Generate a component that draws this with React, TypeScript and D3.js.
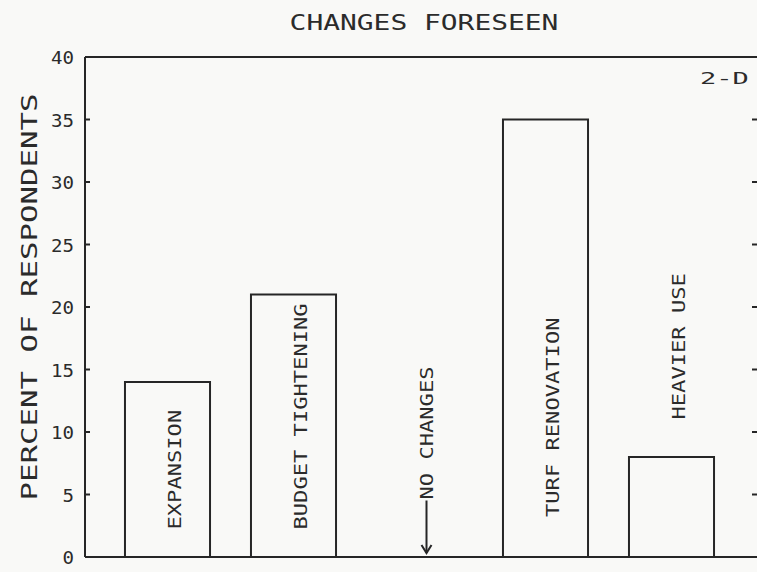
import React, { useEffect, useRef } from 'react';
import * as d3 from 'd3';

// Plotter-style bar chart: changes foreseen
const categories = ['EXPANSION', 'BUDGET TIGHTENING', 'NO CHANGES', 'TURF RENOVATION', 'HEAVIER USE'];
const percents = [14, 21, 0, 35, 8];
const yTicks = [0, 5, 10, 15, 20, 25, 30, 35, 40];
const tickLabels = ['0', '5', '10', '15', '20', '25', '30', '35', '40'];
// where each vertical label starts, in axis units
const labelStart = [2.2, 2.2, 4.6, 3.2, 11];

const title = 'CHANGES FORESEEN';
const yTitle = 'PERCENT OF RESPONDENTS';
const panelTag = '2-D';

export default function App() {
  const ref = useRef<SVGSVGElement | null>(null);

  useEffect(() => {
    const width = 757;
    const height = 572;
    const ink = '#262626';
    const font = '"DejaVu Sans Mono", "Liberation Mono", monospace';

    const svg = d3.select(ref.current);
    svg.selectAll('*').remove();
    svg.attr('width', width).attr('height', height).attr('viewBox', `0 0 ${width} ${height}`);

    svg.append('rect').attr('width', width).attr('height', height).attr('fill', '#f9f9f7');

    const left = 85;
    const right = 757;

    const x = d3.scaleBand<string>()
      .domain(categories)
      .range([104.5, 734.5])
      .paddingInner(0.325)
      .paddingOuter(0.1625);

    const y = d3.scaleLinear().domain([0, 40]).range([557, 57]);

    const g = svg.append('g').attr('fill', 'none').attr('stroke', ink).attr('stroke-width', 2);

    // frame: top, left, bottom
    g.append('line').attr('x1', left).attr('x2', right).attr('y1', y(40)).attr('y2', y(40));
    g.append('line').attr('x1', left).attr('x2', left).attr('y1', y(40)).attr('y2', y(0));
    g.append('line').attr('x1', left).attr('x2', right).attr('y1', y(0)).attr('y2', y(0));

    // inner ticks on left, short dashes on right edge
    yTicks.filter(t => t > 0 && t < 40).forEach(t => {
      g.append('line').attr('x1', left).attr('x2', left + 5).attr('y1', y(t)).attr('y2', y(t));
      g.append('line').attr('x1', right - 5).attr('x2', right).attr('y1', y(t)).attr('y2', y(t));
    });

    // bars
    categories.forEach((c, i) => {
      const v = percents[i];
      if (v <= 0) return;
      g.append('rect')
        .attr('x', x(c)!)
        .attr('y', y(v))
        .attr('width', x.bandwidth())
        .attr('height', y(0) - y(v));
    });

    const txt = svg.append('g').attr('fill', '#2b2b2b').style('font-family', font);

    // stretched mono text to mimic the wide plotter lettering
    const wide = (sel: any, s: string, size: number, adv: number) =>
      sel.attr('font-size', size)
        .attr('textLength', s.length * adv)
        .attr('lengthAdjust', 'spacingAndGlyphs')
        .text(s);

    // tick labels
    yTicks.forEach((t, i) => {
      wide(txt.append('text')
        .attr('x', 74)
        .attr('y', y(t) + 7)
        .attr('text-anchor', 'end'), tickLabels[i], 18, 11.5);
    });

    // title
    wide(txt.append('text')
      .attr('x', 424)
      .attr('y', 30)
      .attr('text-anchor', 'middle'), title, 22, 16.8);

    // y axis title
    wide(txt.append('text')
      .attr('transform', `translate(37,${(y(0) + y(40)) / 2 - 10}) rotate(-90)`)
      .attr('text-anchor', 'middle'), yTitle, 22, 18.5);

    // panel tag
    wide(txt.append('text')
      .attr('x', 700)
      .attr('y', 84), panelTag, 16, 16.3);

    // vertical category labels
    categories.forEach((c, i) => {
      const cx = x(c)! + x.bandwidth() / 2 + 7;
      const y0 = y(labelStart[i]);
      wide(txt.append('text')
        .attr('transform', `translate(${cx + 6.5},${y0}) rotate(-90)`), c, 18, 13.3);
      if (percents[i] === 0) {
        // arrow pointing down to the baseline
        const ay = y(0) - 4;
        g.append('line').attr('x1', cx).attr('x2', cx).attr('y1', y0 + 1).attr('y2', ay);
        g.append('path').attr('d', `M${cx - 5},${ay - 8}L${cx},${ay}L${cx + 5},${ay - 8}`);
      }
    });
  }, []);

  return (
    <svg ref={ref} style={{ position: 'absolute', left: 0, top: 0, display: 'block' }} />
  );
}
